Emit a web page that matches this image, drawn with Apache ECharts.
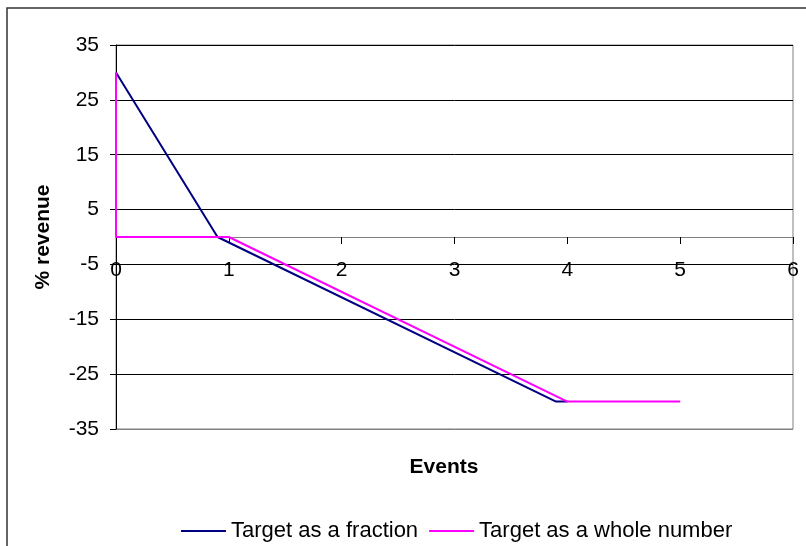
<!DOCTYPE html>
<html>
<head>
<meta charset="utf-8">
<script src="https://cdn.jsdelivr.net/npm/echarts@6/dist/echarts.min.js"></script>
<style>
html,body{margin:0;padding:0;background:#fff;}
#chart{width:806px;height:546px;}
</style>
</head>
<body>
<div id="chart"></div>
<script>
var seriesNames = ['Target as a fraction', 'Target as a whole number'];
var fractionData = [[0, 30], [0.9, 0], [3.9, -30], [4, -30]];
var wholeData = [[0, 30], [0, 0], [1, 0], [4, -30], [5, -30]];
var xTitle = 'Events';
var yTitle = '% revenue';

var FONT = '"Liberation Sans", Arial, sans-serif';
var chart = echarts.init(document.getElementById('chart'), null, {renderer: 'canvas'});
chart.setOption({
  animation: false,
  backgroundColor: '#fff',
  textStyle: {fontFamily: FONT, color: '#000'},
  grid: {left: 116, right: 13, top: 45, bottom: 117, show: true, borderColor: '#808080', borderWidth: 1, backgroundColor: 'transparent'},
  xAxis: {
    type: 'value', min: 0, max: 6, interval: 1,
    position: 'bottom', offset: -192,
    axisLine: {show: true, onZero: false, lineStyle: {color: '#808080', width: 1}},
    axisTick: {show: true, inside: false, length: 7, lineStyle: {color: '#000'}},
    axisLabel: {fontSize: 21, color: '#000', fontFamily: FONT, margin: 23},
    splitLine: {show: false}
  },
  yAxis: {
    type: 'value', min: -35, max: 35, interval: 10,
    axisLine: {show: true, lineStyle: {color: '#000', width: 1}},
    axisTick: {show: true, length: 6, lineStyle: {color: '#000'}},
    axisLabel: {fontSize: 21, color: '#000', fontFamily: FONT, margin: 17},
    splitLine: {show: true, lineStyle: {color: ['#808080', '#000', '#000', '#000', '#000', '#000', '#000', '#000'], width: 1}}
  },
  legend: {
    top: 515, left: 176,
    icon: 'rect', itemWidth: 45, itemHeight: 2, itemGap: 11,
    textStyle: {fontSize: 22, color: '#000', fontFamily: FONT},
    data: seriesNames
  },
  graphic: [
    {type: 'rect', shape: {x: 7, y: 8, width: 810, height: 560}, style: {fill: 'none', stroke: '#333', lineWidth: 1.5}, silent: true},
    {type: 'text', style: {text: xTitle, font: 'bold 21px ' + FONT, fill: '#000', textAlign: 'center', textVerticalAlign: 'middle'}, position: [444, 467]},
    {type: 'text', style: {text: yTitle, font: 'bold 21px ' + FONT, fill: '#000', textAlign: 'center', textVerticalAlign: 'middle'}, position: [43, 237], rotation: Math.PI / 2}
  ],
  series: [
    {name: seriesNames[0], type: 'line', data: fractionData, showSymbol: false, symbol: 'none', lineStyle: {color: '#000080', width: 2}, itemStyle: {color: '#000080'}, z: 2},
    {name: seriesNames[1], type: 'line', data: wholeData, showSymbol: false, symbol: 'none', lineStyle: {color: '#FF00FF', width: 2}, itemStyle: {color: '#FF00FF'}, z: 3}
  ]
});
</script>
</body>
</html>
